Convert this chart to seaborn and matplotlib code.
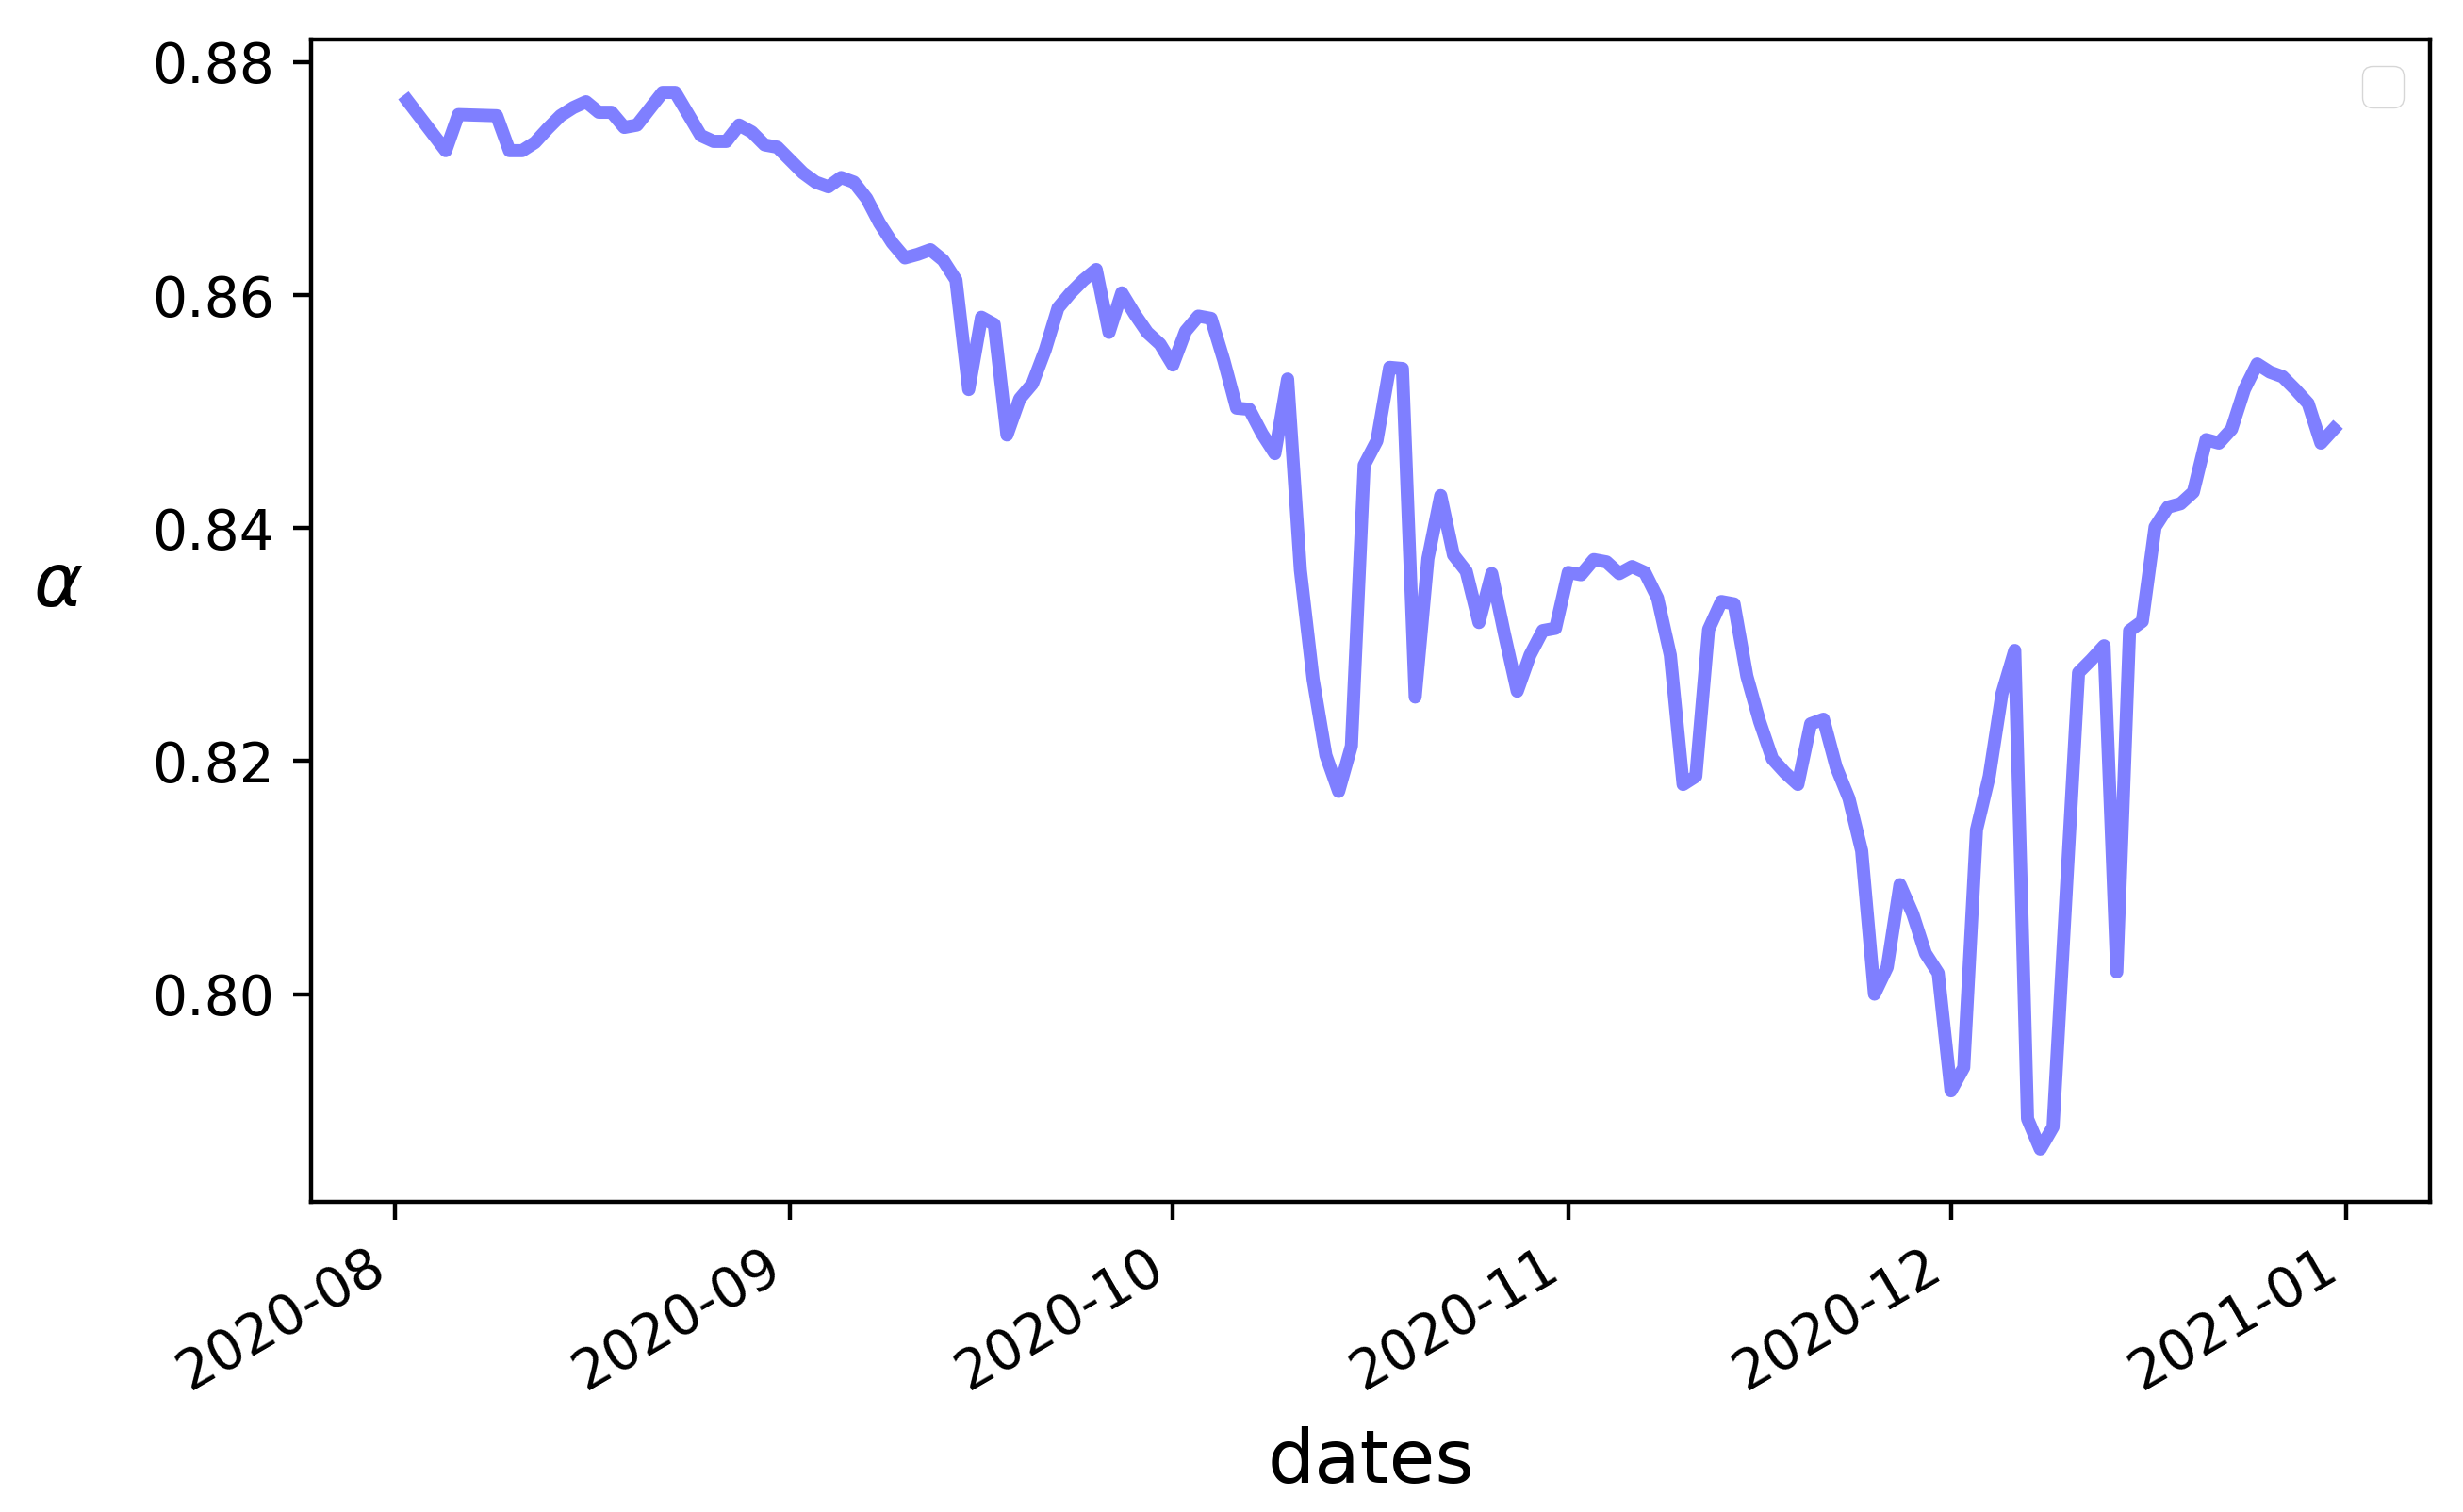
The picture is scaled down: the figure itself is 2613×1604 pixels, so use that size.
import matplotlib
matplotlib.use('Agg')
import matplotlib.pyplot as plt
import matplotlib.dates as mdates
import pandas as pd
import seaborn as sns

# days after 2020-08-01 (only the corner points of the line are kept)
day_offsets = [1, 4, 5, 8, 9, 10, 11, 12, 13, 14, 15, 16, 17, 18, 19, 21, 22, 24, 25,
               26, 27, 28, 29, 30, 31, 32, 33, 34, 35, 36, 37, 38, 39, 40, 41, 42, 43,
               44, 45, 46, 47, 48, 49, 50, 51, 52, 53, 54, 55, 56, 57, 58, 59, 60, 61,
               62, 63, 64, 65, 66, 67, 68, 69, 70, 71, 72, 73, 74, 75, 76, 77, 78, 79,
               80, 81, 82, 83, 84, 85, 86, 87, 88, 89, 90, 91, 92, 93, 94, 95, 96, 97,
               98, 99, 100, 101, 102, 103, 104, 105, 106, 107, 108, 109, 110, 111, 112,
               113, 114, 115, 116, 117, 118, 119, 120, 121, 122, 123, 124, 125, 126, 127,
               128, 129, 130, 132, 133, 134, 135, 136, 137, 138, 139, 140, 141, 142, 143,
               144, 145, 146, 147, 148, 149, 150, 151, 152]

alpha_vals = [0.8767, 0.8724, 0.8755, 0.8754, 0.8724, 0.8724, 0.8731, 0.8743, 0.8754,
              0.8761, 0.8766, 0.8757, 0.8757, 0.8744, 0.8746, 0.8774, 0.8774, 0.8737,
              0.8732, 0.8732, 0.8746, 0.8740, 0.8729, 0.8727, 0.8716, 0.8705, 0.8697,
              0.8693, 0.8701, 0.8697, 0.8683, 0.8662, 0.8645, 0.8632, 0.8635, 0.8639,
              0.8630, 0.8613, 0.8519, 0.8581, 0.8575, 0.8480, 0.8511, 0.8524, 0.8553,
              0.8589, 0.8602, 0.8613, 0.8622, 0.8568, 0.8602, 0.8584, 0.8568, 0.8558,
              0.8540, 0.8569, 0.8582, 0.8580, 0.8544, 0.8503, 0.8502, 0.8481, 0.8464,
              0.8528, 0.8364, 0.8270, 0.8205, 0.8174, 0.8213, 0.8454, 0.8475, 0.8538,
              0.8537, 0.8255, 0.8374, 0.8428, 0.8377, 0.8363, 0.8319, 0.8361, 0.8309,
              0.8260, 0.8291, 0.8312, 0.8314, 0.8362, 0.8360, 0.8373, 0.8371, 0.8361,
              0.8367, 0.8362, 0.8340, 0.8291, 0.8180, 0.8187, 0.8313, 0.8337, 0.8335,
              0.8273, 0.8234, 0.8202, 0.8190, 0.8180, 0.8232, 0.8236, 0.8195, 0.8168,
              0.8123, 0.8000, 0.8023, 0.8094, 0.8069, 0.8035, 0.8018, 0.7917, 0.7937,
              0.8141, 0.8187, 0.8258, 0.8295, 0.7893, 0.7867, 0.7886, 0.8276, 0.8287,
              0.8299, 0.8019, 0.8312, 0.8320, 0.8401, 0.8418, 0.8421, 0.8431, 0.8476,
              0.8473, 0.8485, 0.8519, 0.8541, 0.8534, 0.8530, 0.8519, 0.8507, 0.8473,
              0.8485]

dates = pd.Timestamp('2020-08-01') + pd.to_timedelta(day_offsets, unit='D')
df = pd.DataFrame({'dates': dates, 'alpha': alpha_vals})

fig = plt.figure(figsize=(26.13, 16.04), dpi=100)
ax = fig.add_axes([0.1263, 0.2051, 0.8603, 0.7687])

sns.lineplot(data=df, x='dates', y='alpha', color='blue', alpha=0.5, linewidth=10, ax=ax)

ax.xaxis.set_major_locator(mdates.MonthLocator())
ax.xaxis.set_major_formatter(mdates.DateFormatter('%Y-%m'))
ax.tick_params(labelsize=42, length=14, width=3.2, pad=14)
plt.setp(ax.get_xticklabels(), rotation=30, ha='right')
for s in ax.spines.values():
    s.set_linewidth(3.2)

ax.set_xlabel('dates', fontsize=57, labelpad=20)
ax.set_ylabel(r'$\alpha$', fontsize=57, rotation=0, labelpad=72)

ax.legend(loc='upper right', fontsize=40)

fig.savefig('out.png', dpi=100)
